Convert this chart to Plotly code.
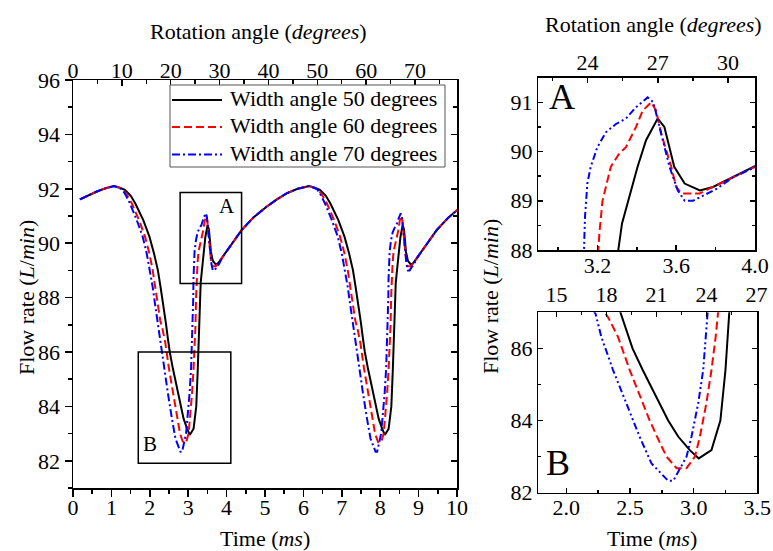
import plotly.graph_objects as go

# ---------------- data ----------------
t_black = [0.18, 0.40, 0.62, 0.85, 1.07, 1.20, 1.35, 1.50, 1.62, 1.83, 1.99, 2.11, 2.21, 2.28, 2.35,
           2.42, 2.47, 2.52, 2.60, 2.73, 2.80, 2.88, 2.97, 3.04, 3.14, 3.21, 3.25, 3.28, 3.306,
           3.325, 3.358, 3.404, 3.447, 3.506, 3.54, 3.571, 3.59, 3.643, 3.72, 3.787, 3.89, 4.0,
           4.20, 4.39, 4.70, 5.04, 5.30, 5.56, 5.85,
           6.15, 6.28, 6.43, 6.58, 6.70, 6.91, 7.07, 7.19, 7.29, 7.36, 7.43,
           7.50, 7.55, 7.60, 7.68, 7.81, 7.88, 7.96, 8.05, 8.12, 8.22, 8.29, 8.33, 8.36, 8.386,
           8.405, 8.438, 8.484, 8.527, 8.586, 8.62, 8.651, 8.67, 8.723, 8.80, 8.867, 8.97, 9.08,
           9.28, 9.47, 9.78, 10.05]
v_black = [91.61, 91.77, 91.90, 92.02, 92.10, 92.05, 91.96, 91.75, 91.47, 90.85, 90.24, 89.62, 89.01, 88.39, 87.78,
           87.05, 86.50, 86.00, 85.40, 84.48, 84.00, 83.55, 83.18, 82.95, 83.18, 84.00, 85.40, 87.00, 88.00,
           88.54, 89.01, 89.69, 90.23, 90.67, 90.50, 90.02, 89.69, 89.35, 89.21, 89.28, 89.48, 89.69,
           90.10, 90.48, 90.95, 91.34, 91.60, 91.83, 92.00,
           92.10, 92.05, 91.96, 91.75, 91.47, 90.85, 90.24, 89.62, 89.01, 88.39, 87.78,
           87.05, 86.50, 86.00, 85.40, 84.48, 84.00, 83.55, 83.18, 82.95, 83.18, 84.00, 85.40, 87.00, 88.00,
           88.54, 89.01, 89.69, 90.23, 90.67, 90.50, 90.02, 89.69, 89.35, 89.21, 89.28, 89.48, 89.69,
           90.10, 90.48, 90.95, 91.27]

t_red = [0.18, 0.40, 0.62, 0.85, 1.07, 1.18, 1.30, 1.42, 1.53, 1.72, 1.875, 1.99, 2.075, 2.14, 2.205,
         2.27, 2.33, 2.406, 2.498, 2.603, 2.655, 2.713, 2.787, 2.866, 2.944, 3.01, 3.049, 3.10,
         3.14, 3.173, 3.19, 3.205, 3.21, 3.226, 3.243, 3.268, 3.311, 3.345, 3.396, 3.43, 3.473,
         3.498, 3.524, 3.575, 3.60, 3.626, 3.72, 3.79, 3.89, 4.0,
         4.20, 4.39, 4.70, 5.04, 5.30, 5.56, 5.85,
         6.15, 6.26, 6.38, 6.50, 6.61, 6.80, 6.955, 7.07, 7.155, 7.22, 7.285,
         7.35, 7.41, 7.486, 7.578, 7.683, 7.735, 7.793, 7.867, 7.946, 8.024, 8.09, 8.129, 8.18,
         8.22, 8.253, 8.27, 8.285, 8.29, 8.306, 8.323, 8.348, 8.391, 8.425, 8.476, 8.51, 8.553,
         8.578, 8.604, 8.655, 8.68, 8.706, 8.80, 8.87, 8.97, 9.08,
         9.28, 9.47, 9.78, 10.05]
v_red = [91.61, 91.77, 91.90, 92.02, 92.10, 92.05, 91.98, 91.74, 91.47, 90.85, 90.24, 89.62, 89.01, 88.39, 87.78,
         87.17, 86.85, 86.32, 85.40, 84.48, 84.00, 83.55, 83.00, 82.68, 82.68, 83.00, 83.55, 84.48,
         85.40, 86.32, 87.00, 88.00, 88.34, 89.00, 89.28, 89.69, 89.96, 90.09, 90.50, 90.83, 91.00,
         90.83, 90.36, 89.69, 89.28, 89.15, 89.15, 89.28, 89.48, 89.69,
         90.10, 90.48, 90.95, 91.34, 91.60, 91.83, 92.00,
         92.10, 92.05, 91.98, 91.74, 91.47, 90.85, 90.24, 89.62, 89.01, 88.39, 87.78,
         87.17, 86.85, 86.32, 85.40, 84.48, 84.00, 83.55, 83.00, 82.68, 82.68, 83.00, 83.55, 84.48,
         85.40, 86.32, 87.00, 88.00, 88.34, 89.00, 89.28, 89.69, 89.96, 90.09, 90.50, 90.83, 91.00,
         90.83, 90.36, 89.69, 89.28, 89.15, 89.15, 89.28, 89.48, 89.69,
         90.10, 90.48, 90.95, 91.27]

t_blue = [0.18, 0.40, 0.62, 0.85, 1.07, 1.17, 1.28, 1.38, 1.48, 1.66, 1.815, 1.92, 2.005, 2.075, 2.135,
          2.195, 2.23, 2.275, 2.367, 2.472, 2.576, 2.669, 2.80, 2.84, 2.944, 2.983, 3.036, 3.075,
          3.10, 3.115, 3.132, 3.137, 3.149, 3.166, 3.2, 3.243, 3.294, 3.345, 3.396, 3.455, 3.484,
          3.524, 3.566, 3.608, 3.643, 3.685, 3.737, 3.804, 3.89, 4.0,
          4.20, 4.39, 4.70, 5.04, 5.30, 5.56, 5.85,
          6.15, 6.25, 6.36, 6.46, 6.56, 6.74, 6.895, 7.00, 7.085, 7.155, 7.215,
          7.275, 7.31, 7.355, 7.447, 7.552, 7.656, 7.749, 7.88, 7.92, 8.024, 8.063, 8.116, 8.155,
          8.18, 8.195, 8.212, 8.217, 8.229, 8.246, 8.28, 8.323, 8.374, 8.425, 8.476, 8.535, 8.564,
          8.604, 8.646, 8.688, 8.723, 8.765, 8.817, 8.884, 8.97, 9.08,
          9.28, 9.47, 9.78, 10.05]
v_blue = [91.61, 91.77, 91.90, 92.02, 92.10, 92.05, 91.98, 91.75, 91.47, 90.85, 90.24, 89.62, 89.01, 88.39, 87.78,
          87.17, 86.95, 86.32, 85.40, 84.48, 83.55, 82.81, 82.33, 82.33, 83.00, 83.55, 84.48, 85.40,
          86.32, 87.00, 88.00, 88.67, 89.35, 89.69, 90.09, 90.39, 90.56, 90.67, 90.90, 91.10, 91.00,
          90.36, 89.69, 89.21, 89.00, 89.00, 89.11, 89.24, 89.48, 89.69,
          90.10, 90.48, 90.95, 91.34, 91.60, 91.83, 92.00,
          92.10, 92.05, 91.98, 91.75, 91.47, 90.85, 90.24, 89.62, 89.01, 88.39, 87.78,
          87.17, 86.95, 86.32, 85.40, 84.48, 83.55, 82.81, 82.33, 82.33, 83.00, 83.55, 84.48, 85.40,
          86.32, 87.00, 88.00, 88.67, 89.35, 89.69, 90.09, 90.39, 90.56, 90.67, 90.90, 91.10, 91.00,
          90.36, 89.69, 89.21, 89.00, 89.00, 89.11, 89.24, 89.48, 89.69,
          90.10, 90.48, 90.95, 91.27]

series_names = ["Width angle 50 degrees", "Width angle 60 degrees", "Width angle 70 degrees"]
main_x_ticks = [0, 1, 2, 3, 4, 5, 6, 7, 8, 9, 10]
main_y_ticks = [82, 84, 86, 88, 90, 92, 94, 96]
main_angle_ticks = [0, 10, 20, 30, 40, 50, 60, 70]
a_x_ticks = [3.2, 3.6, 4.0]
a_y_ticks = [88, 89, 90, 91]
a_angle_ticks = [24, 27, 30]
b_x_ticks = [2.0, 2.5, 3.0, 3.5]
b_y_ticks = [82, 84, 86]
b_angle_ticks = [15, 18, 21, 24, 27]

# ---------------- styling ----------------
W, H = 773, 551
FONT = "Liberation Serif"
FS = 22

def px(x):
    return x / W

def py(y):
    return 1 - y / H

styles = [
    dict(color="black", width=2, dash="solid"),
    dict(color="red", width=2, dash="8px,4px"),
    dict(color="blue", width=2, dash="8px,3px,2px,3px"),
]
inset_styles = [
    dict(color="black", width=2, dash="solid"),
    dict(color="red", width=2, dash="8px,4px"),
    dict(color="blue", width=2, dash="7px,3px,2px,3px,2px,3px"),
]

data = [(t_black, v_black), (t_red, v_red), (t_blue, v_blue)]

fig = go.Figure()

for (t, v), name, st in zip(data, series_names, styles):
    fig.add_trace(go.Scatter(x=t, y=v, mode="lines", name=name, line=st, showlegend=False,
                             xaxis="x", yaxis="y", hoverinfo="skip"))
for (t, v), st in zip(data, inset_styles):
    fig.add_trace(go.Scatter(x=t, y=v, mode="lines", line=st, showlegend=False,
                             xaxis="x3", yaxis="y3", hoverinfo="skip"))
for (t, v), st in zip(data, inset_styles):
    fig.add_trace(go.Scatter(x=t, y=v, mode="lines", line=st, showlegend=False,
                             xaxis="x5", yaxis="y5", hoverinfo="skip"))

for xa, ya in [("x2", "y"), ("x", "y2"), ("x4", "y3"), ("x3", "y4"), ("x6", "y5"), ("x5", "y6")]:
    fig.add_trace(go.Scatter(x=[], y=[], xaxis=xa, yaxis=ya, showlegend=False, hoverinfo="skip"))

tickfont = dict(family=FONT, size=FS, color="black")
LW = 1.5

def base_axis(**kw):
    d = dict(showgrid=False, zeroline=False, showline=True, linecolor="black", linewidth=LW,
             tickfont=tickfont, tickcolor="black", tickwidth=LW, ticklen=7, automargin=False,
             fixedrange=True)
    d.update(kw)
    return d

def minor(dt, t0, kind, ln):
    return dict(dtick=dt, tick0=t0, ticks=kind, ticklen=ln, tickcolor="black", tickwidth=LW)

mx = [px(73), px(457)]
my = [py(488), py(80)]
ax_ = [px(538.3), px(755)]
ay_ = [py(250), py(77.7)]
bx_ = [px(538.3), px(757.3)]
by_ = [py(492.7), py(312.3)]

fig.update_layout(
    width=W, height=H, autosize=False,
    margin=dict(l=0, r=0, t=0, b=0, pad=0, autoexpand=False),
    paper_bgcolor="white", plot_bgcolor="white",
    font=dict(family=FONT, size=FS, color="black"),
    showlegend=False,
    xaxis=base_axis(domain=mx, anchor="y", range=[0, 10], tickvals=main_x_ticks,
                    ticks="outside", ticklabelstandoff=-8, minor=minor(0.5, 0, "outside", 4)),
    xaxis2=base_axis(domain=mx, anchor="y", overlaying="x", side="top", range=[0, 78.6],
                     tickvals=main_angle_ticks, ticks="inside", ticklen=6, ticklabelstandoff=-8,
                     minor=minor(5, 0, "inside", 4)),
    yaxis=base_axis(domain=my, anchor="x", range=[81, 96], tickvals=main_y_ticks,
                    ticks="outside", minor=minor(1, 81, "outside", 4)),
    yaxis2=base_axis(domain=my, anchor="x", overlaying="y", side="right", range=[81, 96],
                     tickvals=main_y_ticks, ticks="inside", showticklabels=False, ticklen=6,
                     minor=minor(1, 81, "inside", 4)),
    xaxis3=base_axis(domain=ax_, anchor="y3", range=[2.9, 4.0], tickvals=a_x_ticks,
                     ticktext=[f"{v:.1f}" for v in a_x_ticks], ticks="inside", ticklen=5,
                     ticklabelstandoff=-5, minor=minor(0.2, 3.0, "inside", 3)),
    xaxis4=base_axis(domain=ax_, anchor="y3", overlaying="x3", side="top", range=[21.9, 31.15],
                     tickvals=a_angle_ticks, ticks="inside", ticklen=5, ticklabelstandoff=-3,
                     minor=minor(1.5, 22.5, "inside", 3)),
    yaxis3=base_axis(domain=ay_, anchor="x3", range=[88, 91.5], tickvals=a_y_ticks,
                     ticks="inside", ticklen=5, minor=minor(0.5, 88, "inside", 3)),
    yaxis4=base_axis(domain=ay_, anchor="x3", overlaying="y3", side="right", range=[88, 91.5],
                     tickvals=a_y_ticks, ticks="inside", showticklabels=False, ticklen=5,
                     minor=minor(0.5, 88, "inside", 3)),
    xaxis5=base_axis(domain=bx_, anchor="y5", range=[1.78, 3.5], tickvals=b_x_ticks,
                     ticktext=[f"{v:.1f}" for v in b_x_ticks], ticks="inside", ticklen=5,
                     ticklabelstandoff=-6, minor=minor(0.25, 2.0, "inside", 3)),
    xaxis6=base_axis(domain=bx_, anchor="y5", overlaying="x5", side="top", range=[13.9, 27.05],
                     tickvals=b_angle_ticks, ticks="inside", ticklen=5,
                     minor=minor(1.5, 15, "inside", 3)),
    yaxis5=base_axis(domain=by_, anchor="x5", range=[82, 87], tickvals=b_y_ticks,
                     ticks="inside", ticklen=5, minor=minor(1, 82, "inside", 3)),
    yaxis6=base_axis(domain=by_, anchor="x5", overlaying="y5", side="right", range=[82, 87],
                     tickvals=b_y_ticks, ticks="inside", showticklabels=False, ticklen=5,
                     minor=minor(1, 82, "inside", 3)),
)

# zoom boxes in the main plot
fig.add_shape(type="rect", xref="x", yref="y", x0=2.79, x1=4.39, y0=88.52, y1=91.86,
              line=dict(color="black", width=1.5))
fig.add_shape(type="rect", xref="x", yref="y", x0=1.70, x1=4.11, y0=81.91, y1=86.0,
              line=dict(color="black", width=1.5))

# legend (box, line samples, labels)
fig.add_shape(type="rect", xref="paper", yref="paper", x0=px(170), x1=px(445), y0=py(167), y1=py(85),
              line=dict(color="#555", width=1), fillcolor="white", layer="above")
legend_rows = [100, 127, 154.5]
ann = []
for row, name, st in zip(legend_rows, series_names, styles):
    fig.add_shape(type="line", xref="paper", yref="paper", x0=px(172), x1=px(222),
                  y0=py(row), y1=py(row), line=st, layer="above")
    ann.append(dict(x=px(228), y=py(row - 1), xref="paper", yref="paper", text=name,
                    showarrow=False, xanchor="left", yanchor="middle",
                    font=dict(family=FONT, size=22, color="black")))

def text(x, y, s, size=FS, angle=0):
    ann.append(dict(x=px(x), y=py(y), xref="paper", yref="paper", text=s, showarrow=False,
                    xanchor="center", yanchor="middle", textangle=angle,
                    font=dict(family=FONT, size=size, color="black")))

text(258, 32, "Rotation angle (<i>degrees</i>)")
text(265, 538, "Time (<i>ms</i>)")
text(26, 298, "Flow rate (<i>L</i>/<i>min</i>)", angle=-90)
text(653, 24, "Rotation angle (<i>degrees</i>)")
text(652, 538, "Time (<i>ms</i>)")
text(490, 297, "Flow rate (<i>L</i>/<i>min</i>)", angle=-90)
text(227, 206, "A", size=21)
text(150, 444, "B", size=21)
text(562, 97, "A", size=36)
text(558, 463, "B", size=36)
fig.update_layout(annotations=ann)

fig.write_html("out.html", config={"displayModeBar": False, "staticPlot": True},
               post_script="document.body.style.margin='0';document.body.style.overflow='hidden';")
